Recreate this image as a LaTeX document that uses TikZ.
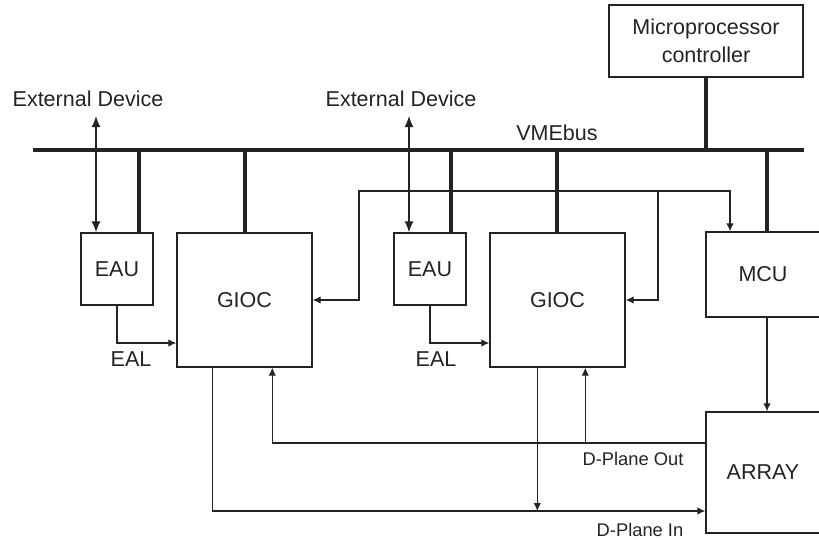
\documentclass[tikz,border=0pt]{standalone}
\usepackage{fontspec}
\setmainfont{Liberation Sans}
\usepackage{tikz}
\usetikzlibrary{arrows.meta,calc,positioning}
\definecolor{ink}{RGB}{35,35,35}

\begin{document}
\begin{tikzpicture}[x=1bp,y=-1bp,>={Latex[length=8bp,width=7.5bp]},
  font=\fontsize{21.6}{28}\selectfont,ink,
  box/.style={draw=ink,line width=1.4bp,inner sep=0pt,align=center},
  bus/.style={line width=4bp},
  sig/.style={line width=1.2bp},
  ext/.style={sig,{Latex[length=11bp,width=9bp]}-{Latex[length=11bp,width=9bp]}},
  lbl/.style={inner sep=0pt},
  small/.style={inner sep=0pt,font=\fontsize{18.4}{22}\selectfont}]
  \useasboundingbox (0,0) rectangle (819,540);

  % units
  \node[box,minimum width=194bp,minimum height=72bp] (mpc) at (706,41) {Microprocessor\\controller};
  \node[box,minimum width=72bp,minimum height=72bp]  (eau1)  at (117,269) {EAU};
  \node[box,minimum width=135bp,minimum height=134bp] (gioc1) at (244.5,300) {GIOC};
  \node[box,minimum width=72bp,minimum height=72bp]  (eau2)  at (430,269) {EAU};
  \node[box,minimum width=135bp,minimum height=134bp] (gioc2) at (557.5,300) {GIOC};
  \node[box,minimum width=114bp,minimum height=85bp]  (mcu)   at (763,274.5) {MCU};
  \node[box,minimum width=114bp,minimum height=121bp] (array) at (763,472.5) {ARRAY};

  % VMEbus and its drops
  \coordinate (busL) at (33,150);
  \coordinate (busR) at (804,150);
  \draw[bus] (busL) -- (busR);
  \node[lbl] (vme) at (557,133) {VMEbus};
  \draw[bus] (mpc.south) -- (mpc.south |- busL);
  \foreach \n/\x/\t in {1/139/eau1,2/245/gioc1,3/451/eau2,4/557/gioc2,5/767/mcu}{
    \coordinate (b\n) at (\x,150);
    \draw[bus] (b\n) -- (b\n |- \t.north);
  }

  % external devices
  \node[lbl] (ext1) at (88,99) {External Device};
  \node[lbl] (ext2) at (401,99) {External Device};
  \coordinate (x1) at ([xshift=8bp,yshift=-9bp]ext1.south);
  \coordinate (x2) at ([xshift=8bp,yshift=-9bp]ext2.south);
  \draw[ext] (x1) -- (x1 |- eau1.north);
  \draw[ext] (x2) -- (x2 |- eau2.north);

  % EAL links
  \draw[sig,->] (eau1.south) |- ($(gioc1.west)+(0,43)$);
  \draw[sig,->] (eau2.south) |- ($(gioc2.west)+(0,43)$);
  \node[lbl] (eal1) at (131,359) {EAL};
  \node[lbl] (eal2) at (436,359) {EAL};

  % control lines from the top
  \coordinate (fbL) at (359,191);
  \coordinate (fbJ) at (658,191);
  \coordinate (fbR) at (730,191);
  \draw[sig,<->] (gioc1.east) -| (fbL) -- (fbR) -- (fbR |- mcu.north);
  \draw[sig,->] (fbJ) |- (gioc2.east);
  \draw[sig,->] (mcu.south -| b5) -- (array.north -| b5);

  % D-plane lanes
  \coordinate (outLane) at (0,443);
  \coordinate (inLane) at (0,511);
  \coordinate (g1out) at ([xshift=36bp]gioc1.south west);
  \coordinate (g1in)  at ([xshift=96bp]gioc1.south west);
  \coordinate (g2out) at ([xshift=48bp]gioc2.south west);
  \coordinate (g2in)  at ([xshift=96bp]gioc2.south west);
  \draw[sig,->] (g1out) |- (array.west |- inLane);
  \draw[sig,->] (g2out) -- (g2out |- inLane);
  \draw[sig,->] (array.west |- outLane) -| (g1in);
  \draw[sig,->] (g2in |- outLane) -- (g2in);
  \node[small] (dout) at (633,459) {D-Plane Out};
  \node[small] (din)  at (640,530) {D-Plane In};
\end{tikzpicture}
\end{document}
